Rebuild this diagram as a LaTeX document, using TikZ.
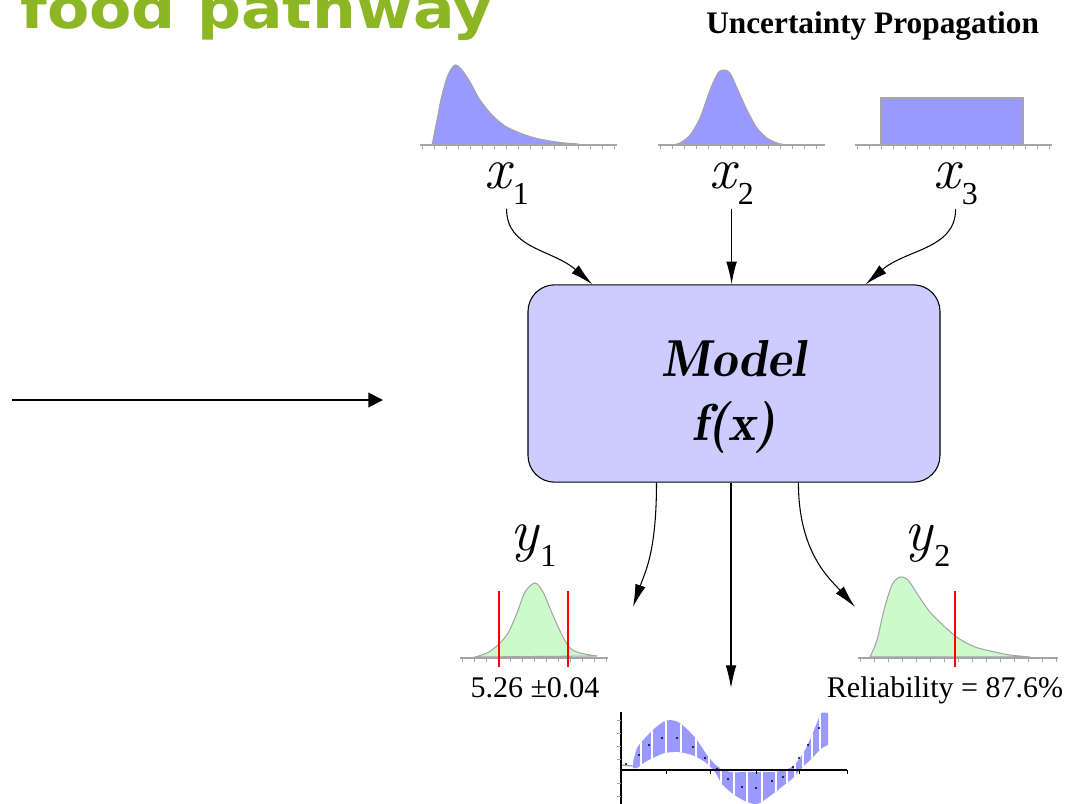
\documentclass[tikz,border=0pt]{standalone}
\usepackage{fontspec}
\setmainfont{Liberation Serif}
\newfontfamily\titlefont{DejaVu Sans}
\usetikzlibrary{arrows.meta}

\definecolor{titlegreen}{RGB}{140,182,35}
\definecolor{distblue}{RGB}{153,153,255}
\definecolor{modelblue}{RGB}{204,204,255}
\definecolor{distgreen}{RGB}{204,250,204}
\definecolor{axisgray}{RGB}{165,165,165}

\newcommand{\varlab}[2]{{\fontfamily{lmr}\fontsize{44}{44}\selectfont\itshape #1}\,\raisebox{-12.5pt}{\fontsize{24}{24}\selectfont #2}}

\tikzset{
  lab/.style={inner sep=3pt, anchor=base west},
  arr/.style={line width=0.8pt, -{Latex[length=17pt,width=8pt]}},
  axisline/.style={draw=axisgray, line width=1pt},
  bluedist/.style={fill=distblue, draw=axisgray, line width=0.8pt},
  greendist/.style={fill=distgreen, draw=axisgray, line width=0.8pt},
  bound/.style={red, line width=1.1pt},
  model/.style={draw, line width=0.8pt, fill=modelblue, rounded corners=20pt,
    minimum width=309pt, minimum height=148pt, align=center,
    font=\fontfamily{lmr}\fontsize{39}{48}\selectfont\bfseries\itshape},
}

\begin{document}
\begin{tikzpicture}[x=0.75pt,y=-0.75pt]
\useasboundingbox (0,0) rectangle (1072,804);

% headings
\node[anchor=base west, inner sep=0, xscale=1.1, text=titlegreen,
  font={\titlefont\fontsize{42}{42}\selectfont\bfseries}] (title) at (20,28) {food pathway};
\node[anchor=base west, inner sep=0, font=\fontsize{23.5}{23.5}\selectfont\bfseries]
  (heading) at (706,33) {Uncertainty Propagation};

% input distributions
\filldraw[bluedist] plot[smooth] coordinates {(432,145) (437,120) (442,95) (448,75)
  (455,65) (462,70) (470,82) (480,100) (492,115) (505,126) (520,133) (535,138)
  (550,141) (565,143) (578,144) (578,145)} -- cycle;
\filldraw[bluedist] plot[smooth] coordinates {(672,145) (680,143) (690,135) (700,118)
  (710,90) (718,73) (724,70) (730,73) (737,88) (747,110) (757,128) (767,138)
  (777,143) (787,145)} -- cycle;
\filldraw[bluedist] (881,98) rectangle (1023,145);
\draw[axisline] (420,145) -- (617,145);
\draw[axisline] (658,145) -- (825,145);
\draw[axisline] (855,145) -- (1052,145);
\foreach \t in {422,434,...,614} \draw[axisgray] (\t,145) -- (\t,149);
\foreach \t in {660,672,...,822} \draw[axisgray] (\t,145) -- (\t,149);
\foreach \t in {857,869,...,1050} \draw[axisgray] (\t,145) -- (\t,149);

% input labels
\node[lab] (x1) at (480,188) {\varlab{x}{1}};
\node[lab] (x2) at (705,188) {\varlab{x}{2}};
\node[lab] (x3) at (929,188) {\varlab{x}{3}};

% model
\node[model] (model) at (734,383.5) {\rule{0pt}{47pt}Model\\f(x)};

\draw[arr] (x1.south) .. controls +(0,40) and +(-40,-35) .. (model.145);
\draw[arr] (x2.south) -- (x2.south |- model.north);
\draw[arr] (x3.south) .. controls +(0,40) and +(40,-35) .. (model.37.6);

% left arrow
\coordinate (in0) at (12,400);
\coordinate (in1) at (383,400);
\draw[line width=1.2pt, -{Triangle[length=11pt,width=11pt]}] (in0) -- (in1);

% outputs
\coordinate (out1) at (633,607);
\coordinate (out2) at (855,607);
\coordinate (out3) at (731,688);
\draw[arr] (model.232.4) .. controls +(0,70) and +(12,-35) .. (out1);
\draw[arr] (out3 |- model.south) -- (out3);
\draw[arr] (model.303) .. controls +(0,70) and +(-25,-28) .. (out2);

\node[lab] (y1) at (506,550) {\varlab{y}{1}};
\node[lab] (y2) at (900,550) {\varlab{y}{2}};

\filldraw[greendist] plot[smooth] coordinates {(475,657) (487,653) (498,645) (508,633)
  (517,613) (525,592) (535,583) (543,592) (552,613) (562,635) (570,648) (580,653)
  (597,656)} -- cycle;
\draw[axisline] (460,658) -- (608,658);
\foreach \t in {462,474,...,606} \draw[axisgray] (\t,658) -- (\t,662);
\draw[bound] (499,591) -- (499,667);
\draw[bound] (568,591) -- (568,667);

\filldraw[greendist] plot[smooth] coordinates {(870,657) (877,640) (884,610) (892,585)
  (900,577) (908,580) (918,595) (930,612) (945,627) (958,638) (975,647) (995,652)
  (1010,655) (1030,657)} -- cycle;
\draw[axisline] (858,658) -- (1058,658);
\foreach \t in {860,874,...,1056} \draw[axisgray] (\t,658) -- (\t,662);
\draw[bound] (955,591) -- (955,667);

\node[anchor=base, inner sep=0, font=\fontsize{22.5}{22.5}\selectfont] (mean) at (535,697) {5.26 ±0.04};
\node[anchor=base, inner sep=0, font=\fontsize{22.5}{22.5}\selectfont] (rel) at (945,697) {Reliability = 87.6\%};

% response band
\path[save path=\bandp] plot[smooth] coordinates {(633,763) (637,748) (645,738) (655,728)
  (663,722) (670,720) (678,722) (688,730) (697,740) (707,755) (717,766) (730,772)
  (745,772) (760,772) (775,772) (790,768) (797,762) (805,750) (812,735) (818,720)
  (821,713) (828,713)}
  -- plot[smooth] coordinates {(828,745) (822,748) (815,755) (808,762) (800,770)
  (793,778) (783,786) (770,796) (757,804) (745,801) (733,794) (722,784) (715,772)
  (705,762) (692,755) (678,752) (665,753) (655,757) (645,762) (637,768) (633,768)} -- cycle;
\fill[distblue, use path=\bandp];
\begin{scope}
  \path[clip, use path=\bandp];
  \foreach \s in {641,652,666,681,696,709,721,734,747,762,776,787,795,803,812,820}
    \draw[white, line width=0.8pt] (\s,700) -- (\s,810);
\end{scope}
\draw[distblue, line width=1pt] (621,765) -- (633,766);
\foreach \px/\py in {626/764,639/755,649/745,662/738,677/738,693/747,705/758,717/769,
  728/779,742/787,756/788,772/781,783/777,793/767,799/758,808/745,819/728}
  \fill (\px,\py) circle (1.2);
\draw[line width=1.2pt] (621,712) -- (621,804);
\draw[line width=1.2pt] (621,770) -- (847,770);
\foreach \t in {666,710,756,799,847} \draw (\t,770) -- (\t,774);
\foreach \t in {720,733,746,759,783,796} \draw[axisgray] (617,\t) -- (621,\t);
\end{tikzpicture}
\end{document}
